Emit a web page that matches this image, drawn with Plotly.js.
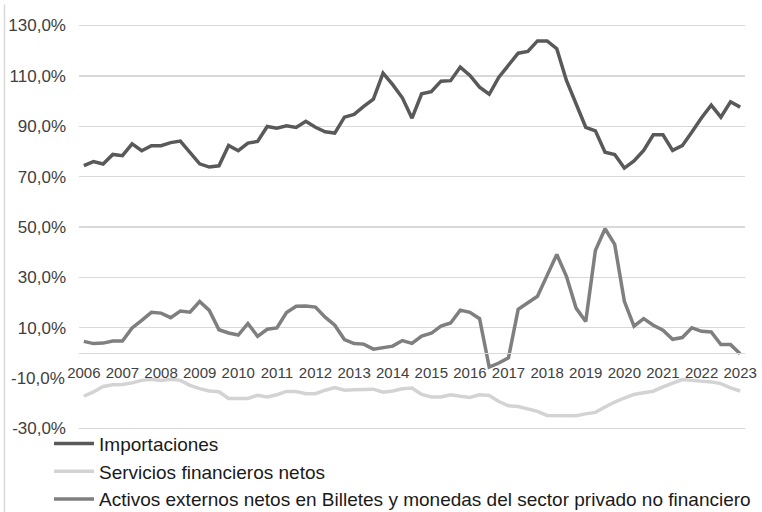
<!DOCTYPE html>
<html>
<head>
<meta charset="utf-8">
<script src="https://cdn.plot.ly/plotly-3.0.1.min.js"></script>
<style>
html, body { margin: 0; padding: 0; background: #fff; }
#chart { width: 762px; height: 512px; }
</style>
</head>
<body>
<div id="chart"></div>
<script>
// Tick labels (one per year, first quarter)
const years = ['2006','2007','2008','2009','2010','2011','2012','2013','2014','2015','2016','2017','2018','2019','2020','2021','2022','2023'];

// Quarterly categories 2006T1 .. 2023T1
const quarters = [];
years.forEach(function (y, k) {
  const n = (k === years.length - 1) ? 1 : 4;
  for (let q = 1; q <= n; q++) quarters.push(y + 'T' + q);
});

// Series values (%)
const importaciones = [
  74.4, 76.0, 75.0, 78.8, 78.3, 83.0, 80.3, 82.3, 82.3, 83.5,
  84.1, 79.7, 75.1, 73.8, 74.3, 82.4, 80.3, 83.3, 84.0, 89.9,
  89.2, 90.2, 89.5, 92.0, 89.6, 87.8, 87.3, 93.6, 94.7, 97.9,
  100.8, 111.1, 106.5, 101.3, 93.2, 102.9, 103.7, 107.9, 108.1, 113.5,
  110.2, 105.5, 102.7, 109.5, 114.2, 119.0, 119.7, 123.9, 123.9, 120.8,
  108.2, 98.9, 89.6, 88.2, 79.7, 78.8, 73.4, 76.2, 80.4, 86.6,
  86.6, 80.4, 82.3, 87.7, 93.4, 98.4, 93.6, 99.7, 97.6
];

const serviciosFinancieros = [
  -17.2, -15.5, -13.3, -12.6, -12.5, -11.9, -10.9, -10.5, -10.9, -10.5,
  -10.9, -12.9, -14.2, -15.1, -15.4, -18.1, -18.1, -18.1, -16.8, -17.5,
  -16.6, -15.3, -15.3, -16.2, -16.2, -14.8, -13.8, -14.8, -14.6, -14.4,
  -14.4, -15.6, -15.1, -14.2, -13.9, -16.5, -17.5, -17.5, -16.6, -17.2,
  -17.7, -16.6, -16.9, -19.3, -21.0, -21.3, -22.1, -23.2, -24.8, -24.8,
  -24.6, -24.9, -24.2, -23.6, -21.5, -19.5, -17.9, -16.5, -15.8, -15.2,
  -13.5, -12.2, -10.6, -10.9, -11.2, -11.5, -12.2, -13.9, -15.1
];

const activosExternos = [
  4.6, 3.7, 3.9, 4.7, 4.7, 9.9, 12.9, 16.1, 15.8, 14.0,
  16.6, 16.2, 20.4, 16.9, 9.2, 7.9, 7.1, 11.7, 6.6, 9.4,
  9.9, 16.0, 18.5, 18.6, 18.2, 14.2, 11.0, 5.3, 3.7, 3.5,
  1.5, 2.1, 2.7, 4.9, 3.8, 6.7, 7.8, 10.7, 11.9, 17.0,
  16.1, 13.6, -5.6, -4.0, -1.9, 17.3, 19.8, 22.5, 30.8, 39.1,
  30.4, 17.8, 12.5, 40.7, 49.3, 43.1, 20.5, 10.6, 13.6, 11.0,
  9.0, 5.4, 6.1, 10.0, 8.6, 8.3, 3.3, 3.3, -0.3
];

const seriesNames = [
  'Importaciones',
  'Servicios financieros netos',
  'Activos externos netos en Billetes y monedas del sector privado no financiero'
];

// Y-axis ticks: gridlines at these values (the reference has no gridline at -10)
const gridVals = [-30, 10, 30, 50, 70, 90, 110, 130];
const gridText = ['-30,0%', '10,0%', '30,0%', '50,0%', '70,0%', '90,0%', '110,0%', '130,0%'];
const extraTickVal = -10;
const extraTickText = '-10,0%';

const tickCats = years.map(function (y) { return y + 'T1'; });

const font = '"Liberation Sans", Arial, sans-serif';

const yMin = -31, yMax = 131;

const traces = [
  { x: quarters, y: importaciones, name: seriesNames[0], type: 'scatter', mode: 'lines',
    line: { color: '#595959', width: 3.5 }, hoverinfo: 'skip' },
  { x: quarters, y: serviciosFinancieros, name: seriesNames[1], type: 'scatter', mode: 'lines',
    line: { color: '#d3d3d3', width: 3.5 }, hoverinfo: 'skip' },
  { x: quarters, y: activosExternos, name: seriesNames[2], type: 'scatter', mode: 'lines',
    line: { color: '#7f7f7f', width: 3.5 }, hoverinfo: 'skip' }
];

const layout = {
  width: 762, height: 512,
  margin: { l: 79, r: 17, t: 22.5, b: 81.3, autoexpand: false },
  font: { family: font, color: '#404040', size: 17 },
  showlegend: true,
  legend: {
    orientation: 'v', x: -0.045, y: 0.0155, xanchor: 'left', yanchor: 'top',
    font: { family: font, size: 19, color: '#1a1a1a' },
    itemwidth: 40, tracegroupgap: 0, bgcolor: 'rgba(0,0,0,0)'
  },
  xaxis: {
    type: 'category', range: [-0.5, quarters.length - 0.5],
    anchor: 'free', position: (0 - yMin) / (yMax - yMin),
    showgrid: false, zeroline: false,
    showline: true, linecolor: '#d9d9d9', linewidth: 1.5,
    ticks: '', tickmode: 'array', tickvals: tickCats, ticktext: years,
    tickangle: 0, ticklabelstandoff: 6,
    tickfont: { family: font, size: 15, color: '#404040' }
  },
  yaxis: {
    range: [yMin, yMax], showgrid: true, gridcolor: '#d9d9d9', gridwidth: 1.5,
    zeroline: false, showline: false,
    ticks: '', tickmode: 'array', tickvals: gridVals, ticktext: gridText,
    ticklabelstandoff: 12,
    tickfont: { family: font, size: 17, color: '#404040' }
  },
  annotations: [
    { xref: 'paper', yref: 'y', x: 0, y: extraTickVal, text: extraTickText,
      showarrow: false, xanchor: 'right', yanchor: 'middle', xshift: -12,
      font: { family: font, size: 17, color: '#404040' } }
  ],
  shapes: [
    { type: 'line', xref: 'paper', yref: 'paper', layer: 'above',
      x0: (4.5 - 79) / 666, x1: (4.5 - 79) / 666,
      y0: 1.0453, y1: -0.1992,
      line: { color: '#d9d9d9', width: 1.5 } }
  ]
};

Plotly.newPlot('chart', traces, layout, { staticPlot: true, displayModeBar: false });
</script>
</body>
</html>
